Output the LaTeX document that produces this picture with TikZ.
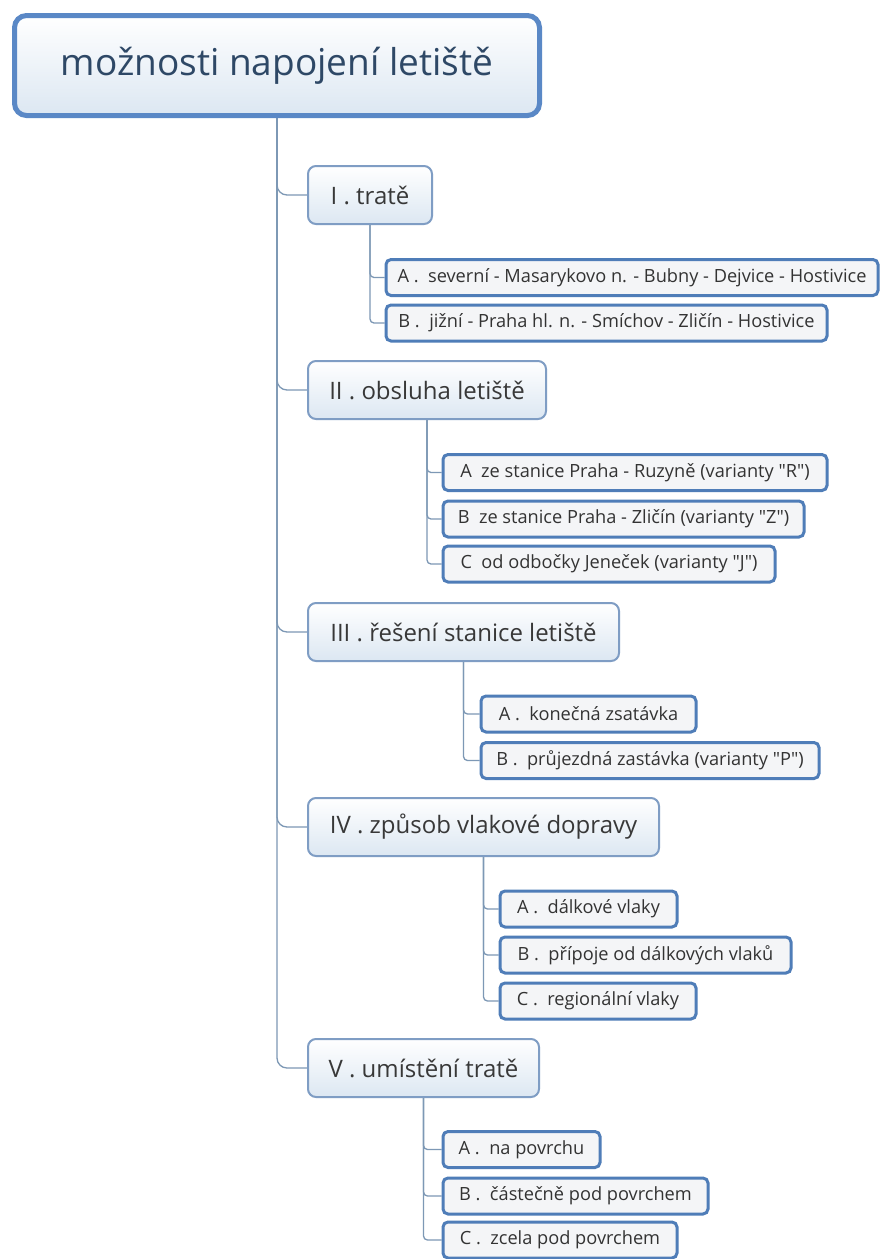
\documentclass[tikz,border=0pt]{standalone}
\usepackage{fontspec}
\setmainfont[Ligatures=TeXOff]{Open Sans}
\usetikzlibrary{positioning,calc,backgrounds}
\definecolor{rootline}{HTML}{5A88C6}
\definecolor{topline}{HTML}{7F9DC4}
\definecolor{subline}{HTML}{4F7DB8}
\definecolor{linkline}{HTML}{7D98B5}
\definecolor{roottext}{HTML}{2E4866}
\definecolor{boxbot}{HTML}{DCE7F2}
\definecolor{subfill}{HTML}{F4F5F7}
\tikzset{
  rootbox/.style={draw=rootline, line width=5pt, rounded corners=12pt,
                  top color=white, bottom color=boxbot, text=roottext,
                  font=\fontsize{37}{40}\selectfont,
                  minimum width=525pt, minimum height=100pt},
  topbox/.style={draw=topline, line width=2pt, rounded corners=8pt,
                 top color=white, bottom color=boxbot, text=black!78,
                 font=\fontsize{24}{28}\selectfont, anchor=west,
                 minimum height=58pt, inner xsep=0pt},
  subbox/.style={draw=subline, line width=3pt, rounded corners=5pt,
                 fill=subfill, text=black!80,
                 font=\fontsize{18.2}{22}\selectfont, anchor=west,
                 minimum height=36pt, inner xsep=0pt},
  link/.style={draw=linkline, line width=1.3pt},
}

\begin{document}
\begin{tikzpicture}[x=1pt,y=-1pt]
  \useasboundingbox (0,0) rectangle (881,1259);
  % root
  \node[rootbox] (root) at (277,65.5) {možnosti napojení letiště};
  % first level
  \node[topbox, minimum width=124pt] (t1) at (307,195)  {I . tratě};
  \node[topbox, minimum width=238pt] (t2) at (307,390)  {II . obsluha letiště};
  \node[topbox, minimum width=311pt] (t3) at (307,632)  {III . řešení stanice letiště};
  \node[topbox, minimum width=351pt] (t4) at (307,827)  {IV . způsob vlakové dopravy};
  \node[topbox, minimum width=231pt] (t5) at (307,1068) {V . umístění tratě};
  % second level
  \node[subbox, minimum width=492pt] (t1a) at (384.5,277.5) {A .~ severní - Masarykovo n. - Bubny - Dejvice - Hostivice};
  \node[subbox, minimum width=441pt] (t1b) at (384.5,323)   {B .~ jižní - Praha hl. n. - Smíchov - Zličín - Hostivice};
  \node[subbox, minimum width=384pt] (t2a) at (441.5,472.5) {A~ ze stanice Praha - Ruzyně (varianty "R")};
  \node[subbox, minimum width=361pt] (t2b) at (441.5,519)   {B~ ze stanice Praha - Zličín (varianty "Z")};
  \node[subbox, minimum width=332pt] (t2c) at (441.5,564)   {C~ od odbočky Jeneček (varianty "J")};
  \node[subbox, minimum width=215pt] (t3a) at (479.5,714)   {A .~ konečná zsatávka};
  \node[subbox, minimum width=338pt] (t3b) at (479.5,760.5) {B .~ průjezdná zastávka (varianty "P")};
  \node[subbox, minimum width=177pt] (t4a) at (498.5,909)   {A .~ dálkové vlaky};
  \node[subbox, minimum width=291pt] (t4b) at (498.5,955)   {B .~ přípoje od dálkových vlaků};
  \node[subbox, minimum width=196pt] (t4c) at (498.5,1001)  {C .~ regionální vlaky};
  \node[subbox, minimum width=157pt] (t5a) at (441.5,1149.5) {A .~ na povrchu};
  \node[subbox, minimum width=265pt] (t5b) at (441.5,1196)  {B .~ částečně pod povrchem};
  \node[subbox, minimum width=234pt] (t5c) at (441.5,1240)  {C .~ zcela pod povrchem};
  % connectors
  \begin{pgfonlayer}{background}
    \fill[white] (0,0) rectangle (881,1259);
    \foreach \t in {t1,t2,t3,t4,t5}
      \draw[link, rounded corners=10pt] (root.south) |- (\t.west);
    \foreach \p/\c in {t1/t1a,t1/t1b,t2/t2a,t2/t2b,t2/t2c,t3/t3a,t3/t3b,
                       t4/t4a,t4/t4b,t4/t4c,t5/t5a,t5/t5b,t5/t5c}
      \draw[link, rounded corners=4pt] (\p.south) |- (\c.west);
  \end{pgfonlayer}
\end{tikzpicture}
\end{document}
